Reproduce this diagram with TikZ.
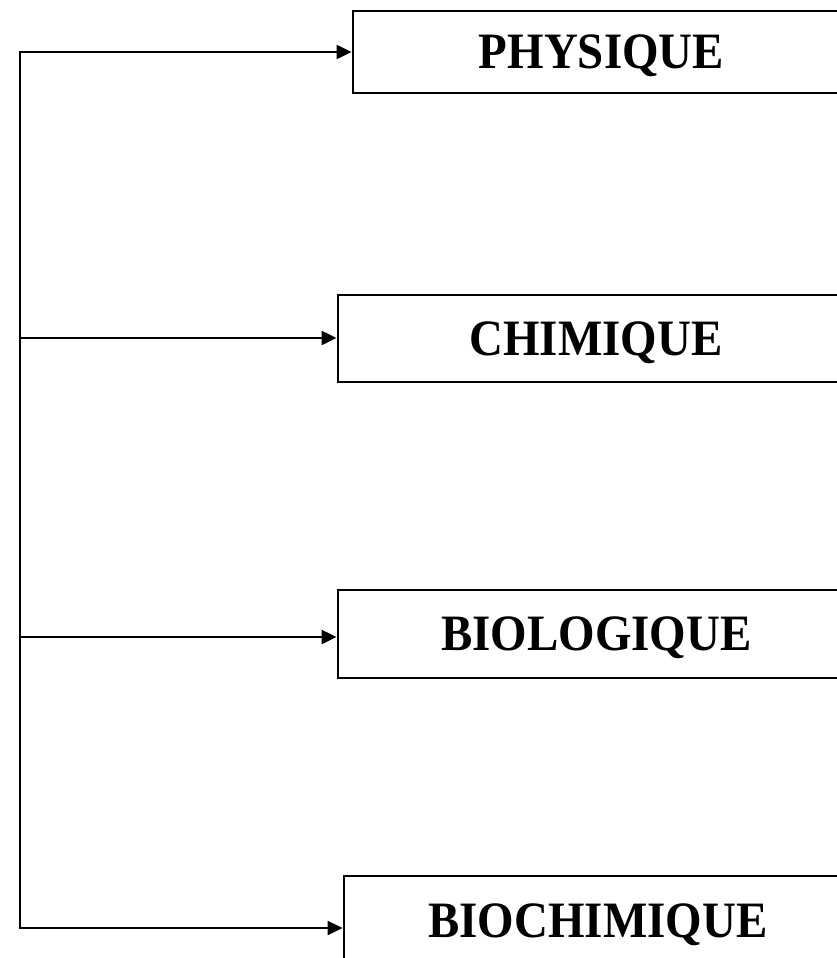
\documentclass[tikz,border=0pt]{standalone}
\usepackage{fontspec}
\newfontfamily\labfont[FakeStretch=0.92]{Liberation Serif}
\usetikzlibrary{arrows.meta}
\begin{document}
\begin{tikzpicture}[x=1pt,y=-1pt,
  catbox/.style={draw=black, line width=1.8pt, anchor=north west, inner sep=0pt,
    font=\labfont\bfseries\fontsize{51}{58}\selectfont, text height=33.8pt, text depth=0pt},
  link/.style={line width=2.5pt},
  linkarrow/.style={line width=2.5pt, -{Triangle[length=15pt,width=14pt]}, shorten >=0.5pt}]
\useasboundingbox (0,0) rectangle (836,958);

% category boxes (their right edges run past the page)
\node[catbox, minimum width=497pt, minimum height=82pt] (phys) at (352,10) {PHYSIQUE};
\node[catbox, minimum width=516pt, minimum height=87pt] (chim) at (337,294) {CHIMIQUE};
\node[catbox, minimum width=517pt, minimum height=88pt] (biol) at (337,589) {BIOLOGIQUE};
\node[catbox, minimum width=508pt, minimum height=90pt] (bioch) at (343,875) {BIOCHIMIQUE};

% branch points on the trunk
\coordinate (t1) at (20,52);
\coordinate (t2) at (20,338);
\coordinate (t3) at (20,637);
\coordinate (t4) at (20,928);

\draw[link, line cap=rect] (t1) -- (t4);
\draw[linkarrow] (t1) -- (t1 -| phys.west);
\draw[linkarrow] (t2) -- (t2 -| chim.west);
\draw[linkarrow] (t3) -- (t3 -| biol.west);
\draw[linkarrow] (t4) -- (t4 -| bioch.west);
\end{tikzpicture}
\end{document}
